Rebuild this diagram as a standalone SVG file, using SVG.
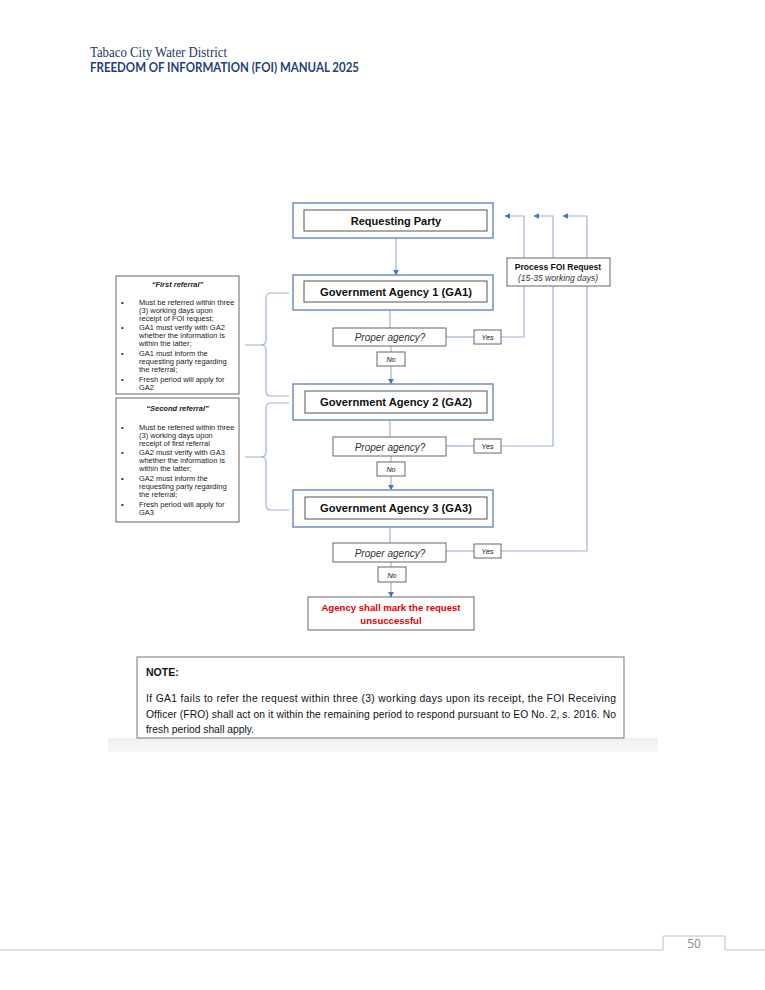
<svg xmlns="http://www.w3.org/2000/svg" width="765" height="990" viewBox="0 0 765 990">
<style>
.outer{fill:#fff;stroke:#6f8fc9;stroke-width:1.5}
.inner{fill:#fff;stroke:#555;stroke-width:1}
.gbox{fill:#fff;stroke:#666;stroke-width:1}
.con{fill:none;stroke:#9fb3dc;stroke-width:1.2}
.t{font-family:"Liberation Sans",Arial,sans-serif;fill:#111}
.b{font-weight:bold}
.i{font-style:italic}
.g{fill:#333}
.red{fill:#e00000}
.lt{font-family:"Liberation Sans",Arial,sans-serif;font-size:7.5px;fill:#222}
</style>
<defs>
<marker id="ah" viewBox="0 0 10 10" refX="9" refY="5" markerWidth="6" markerHeight="6" orient="auto" markerUnits="userSpaceOnUse">
<path d="M0,0 L10,5 L0,10 z" fill="#4472c4"/>
</marker>
<linearGradient id="shade" x1="0" y1="0" x2="0" y2="1">
<stop offset="0" stop-color="#f0f0f0"/>
<stop offset="1" stop-color="#f8f8f8"/>
</linearGradient>
</defs>
<rect width="765" height="990" fill="#fff"/>

<g id="header">
<text x="90" y="57" font-family="Liberation Serif,serif" font-size="14" fill="#1f3864" textLength="137" lengthAdjust="spacingAndGlyphs">Tabaco City Water District</text>
<text x="90" y="72" font-family="Lato,'Open Sans',sans-serif" font-size="13.5" font-weight="bold" fill="#1f3f7f" textLength="269" lengthAdjust="spacingAndGlyphs">FREEDOM OF INFORMATION (FOI) MANUAL 2025</text>
</g>

<rect x="108" y="738" width="550" height="14" fill="url(#shade)"/>

<g id="connectors">
<line class="con" x1="396" y1="238" x2="396" y2="275" marker-end="url(#ah)"/>
<line class="con" x1="390" y1="310" x2="390" y2="328"/>
<line class="con" x1="391" y1="346" x2="391" y2="352"/>
<line class="con" x1="391" y1="366" x2="391" y2="384" marker-end="url(#ah)"/>
<line class="con" x1="390" y1="420" x2="390" y2="437"/>
<line class="con" x1="391" y1="456" x2="391" y2="462"/>
<line class="con" x1="391" y1="476" x2="391" y2="490" marker-end="url(#ah)"/>
<line class="con" x1="390" y1="527" x2="390" y2="543"/>
<line class="con" x1="391" y1="562" x2="391" y2="567"/>
<line class="con" x1="391" y1="582" x2="391" y2="597" marker-end="url(#ah)"/>
<line class="con" x1="446" y1="337" x2="474" y2="337"/>
<line class="con" x1="446" y1="446" x2="474" y2="446"/>
<line class="con" x1="446" y1="551" x2="474" y2="551"/>
<polyline class="con" points="501,337 524,337 524,216 505,216" marker-end="url(#ah)"/>
<polyline class="con" points="501,446 553,446 553,216 534,216" marker-end="url(#ah)"/>
<polyline class="con" points="501,551 587,551 587,216 563,216" marker-end="url(#ah)"/>
<path class="con" d="M289,293 H271 Q266,293 266,298 V340 Q266,345 261,345 H245 M261,345 Q266,345 266,350 V391 Q266,396 271,396 H289"/>
<path class="con" d="M289,403 H271 Q266,403 266,408 V452 Q266,457 261,457 H245 M261,457 Q266,457 266,462 V505 Q266,510 271,510 H289"/>
</g>

<g id="requesting-party">
<rect class="outer" x="293" y="203" width="200" height="35"/>
<rect class="inner" x="304" y="210" width="183" height="21"/>
<text class="t b" x="396" y="224.5" font-size="11" text-anchor="middle">Requesting Party</text>
</g>

<g id="process-foi">
<rect class="gbox" x="507" y="258" width="103" height="28"/>
<text class="t b" x="558" y="269.5" font-size="8.6" text-anchor="middle">Process FOI Request</text>
<text class="t i g" x="558" y="281" font-size="8.6" text-anchor="middle">(15-35 working days)</text>
</g>

<g id="ga1">
<rect class="outer" x="293" y="275" width="200" height="35"/>
<rect class="inner" x="304" y="281" width="183" height="21"/>
<text class="t b" x="396" y="296" font-size="11.2" text-anchor="middle">Government Agency 1 (GA1)</text>
</g>
<g id="proper1">
<rect class="gbox" x="333" y="328" width="113" height="18"/>
<text class="t i g" x="390" y="341" font-size="10" text-anchor="middle">Proper agency?</text>
</g>
<g id="yes1"><rect class="gbox" x="474" y="330" width="27" height="14"/><text class="t i" x="487.5" y="340" font-size="7.2" text-anchor="middle">Yes</text></g>
<g id="no1"><rect class="gbox" x="377" y="352" width="28" height="14"/><text class="t i" x="391" y="362" font-size="7.2" text-anchor="middle">No</text></g>

<g id="ga2">
<rect class="outer" x="293" y="384" width="200" height="36"/>
<rect class="inner" x="305" y="391" width="182" height="22"/>
<text class="t b" x="396" y="406" font-size="11.2" text-anchor="middle">Government Agency 2 (GA2)</text>
</g>
<g id="proper2">
<rect class="gbox" x="333" y="437" width="113" height="19"/>
<text class="t i g" x="390" y="450.5" font-size="10" text-anchor="middle">Proper agency?</text>
</g>
<g id="yes2"><rect class="gbox" x="474" y="439" width="27" height="14"/><text class="t i" x="487.5" y="449" font-size="7.2" text-anchor="middle">Yes</text></g>
<g id="no2"><rect class="gbox" x="377" y="462" width="28" height="14"/><text class="t i" x="391" y="472" font-size="7.2" text-anchor="middle">No</text></g>

<g id="ga3">
<rect class="outer" x="293" y="490" width="200" height="37"/>
<rect class="inner" x="305" y="497" width="182" height="22"/>
<text class="t b" x="396" y="512" font-size="11.2" text-anchor="middle">Government Agency 3 (GA3)</text>
</g>
<g id="proper3">
<rect class="gbox" x="333" y="543" width="113" height="19"/>
<text class="t i g" x="390" y="556.5" font-size="10" text-anchor="middle">Proper agency?</text>
</g>
<g id="yes3"><rect class="gbox" x="474" y="544" width="27" height="14"/><text class="t i" x="487.5" y="554" font-size="7.2" text-anchor="middle">Yes</text></g>
<g id="no3"><rect class="gbox" x="378" y="567" width="28" height="15"/><text class="t i" x="392" y="577.5" font-size="7.2" text-anchor="middle">No</text></g>

<g id="unsuccessful">
<rect class="gbox" x="308" y="597" width="166" height="33"/>
<text class="t b red" x="391" y="610.5" font-size="9.6" text-anchor="middle">Agency shall mark the request</text>
<text class="t b red" x="391" y="624" font-size="9.6" text-anchor="middle">unsuccessful</text>
</g>

<g id="first-referral">
<rect class="gbox" x="116" y="276" width="123" height="118"/>
<text class="lt b i" x="177.5" y="287" text-anchor="middle">“First referral”</text>
<text class="lt" x="121" y="305">•</text>
<text class="lt" x="139" y="305">Must be referred within three</text>
<text class="lt" x="139" y="313">(3) working days upon</text>
<text class="lt" x="139" y="321">receipt of FOI request;</text>
<text class="lt" x="121" y="330">•</text>
<text class="lt" x="139" y="330">GA1 must verify with GA2</text>
<text class="lt" x="139" y="338">whether the information is</text>
<text class="lt" x="139" y="346">within the latter;</text>
<text class="lt" x="121" y="356">•</text>
<text class="lt" x="139" y="356">GA1 must inform the</text>
<text class="lt" x="139" y="364">requesting party regarding</text>
<text class="lt" x="139" y="372">the referral;</text>
<text class="lt" x="121" y="382">•</text>
<text class="lt" x="139" y="382">Fresh period will apply for</text>
<text class="lt" x="139" y="390">GA2</text>
</g>

<g id="second-referral">
<rect class="gbox" x="116" y="398" width="123" height="124"/>
<text class="lt b i" x="177.5" y="411" text-anchor="middle">“Second referral”</text>
<text class="lt" x="121" y="430">•</text>
<text class="lt" x="139" y="430">Must be referred within three</text>
<text class="lt" x="139" y="438">(3) working days upon</text>
<text class="lt" x="139" y="446">receipt of first referral</text>
<text class="lt" x="121" y="455">•</text>
<text class="lt" x="139" y="455">GA2 must verify with GA3</text>
<text class="lt" x="139" y="463">whether the information is</text>
<text class="lt" x="139" y="471">within the latter;</text>
<text class="lt" x="121" y="481">•</text>
<text class="lt" x="139" y="481">GA2 must inform the</text>
<text class="lt" x="139" y="489">requesting party regarding</text>
<text class="lt" x="139" y="497">the referral;</text>
<text class="lt" x="121" y="507">•</text>
<text class="lt" x="139" y="507">Fresh period will apply for</text>
<text class="lt" x="139" y="515">GA3</text>
</g>

<g id="note">
<rect x="137" y="657" width="487" height="81" fill="#fff" stroke="#777" stroke-width="1"/>
<text class="t b" x="146" y="676" font-size="10.5">NOTE:</text>
<text class="t" x="146" y="702" font-size="10.3" textLength="470" lengthAdjust="spacing">If GA1 fails to refer the request within three (3) working days upon its receipt, the FOI Receiving</text>
<text class="t" x="146" y="718" font-size="10.3" textLength="470" lengthAdjust="spacing">Officer (FRO) shall act on it within the remaining period to respond pursuant to EO No. 2, s. 2016. No</text>
<text class="t" x="146" y="733" font-size="10.3">fresh period shall apply.</text>
</g>

<g id="footer">
<polyline points="0,950 663,950 663,936 725,936 725,950 765,950" fill="none" stroke="#bfbfbf" stroke-width="1"/>
<text x="694" y="948" font-family="'Open Sans',Lato,sans-serif" font-size="12" fill="#8a8a8a" text-anchor="middle">50</text>
</g>
</svg>
